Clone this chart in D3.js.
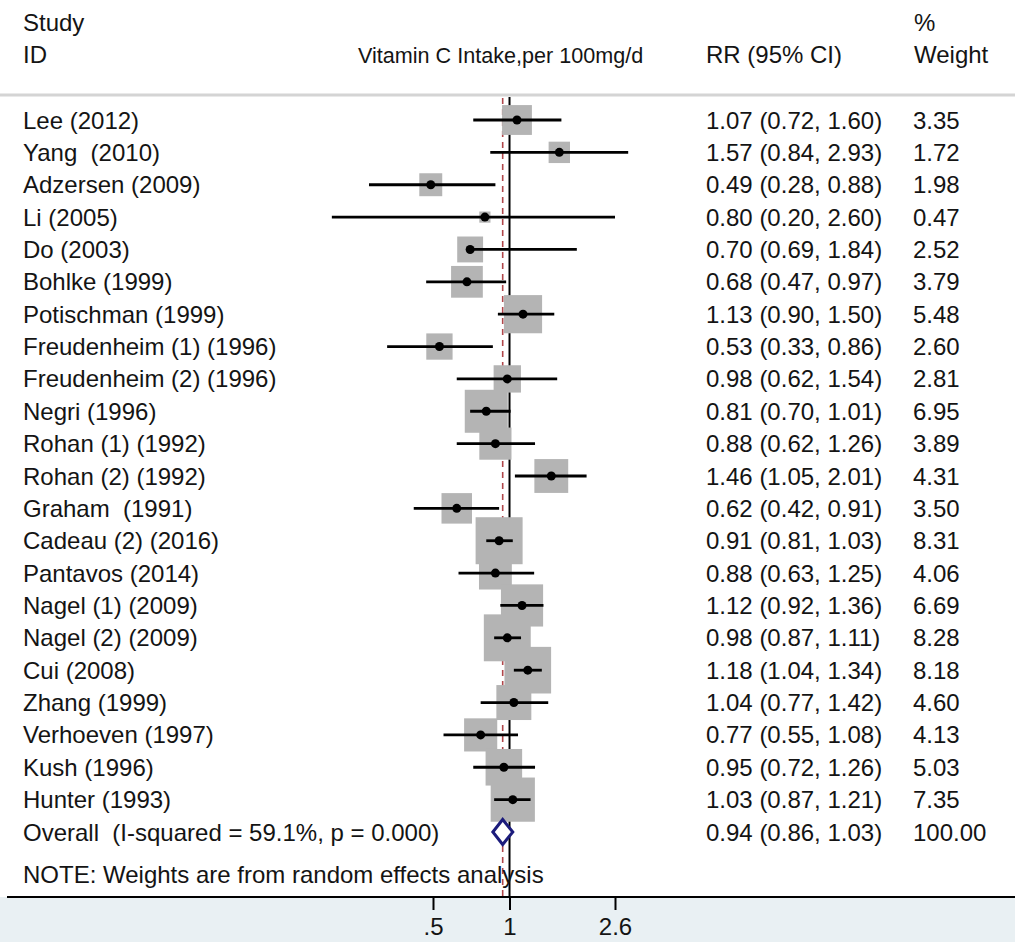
<!DOCTYPE html>
<html>
<head>
<meta charset="utf-8">
<script src="https://cdn.jsdelivr.net/npm/d3@7"></script>
<style>
  html, body { margin: 0; padding: 0; background: #fff; }
  svg { display: block; }
  text { font-family: "Liberation Sans", Arial, sans-serif; fill: #141414; white-space: pre; }
</style>
</head>
<body>
<script>
const studies = ["Lee (2012)", "Yang  (2010)", "Adzersen (2009)", "Li (2005)", "Do (2003)", "Bohlke (1999)",
  "Potischman (1999)", "Freudenheim (1) (1996)", "Freudenheim (2) (1996)", "Negri (1996)", "Rohan (1) (1992)",
  "Rohan (2) (1992)", "Graham  (1991)", "Cadeau (2) (2016)", "Pantavos (2014)", "Nagel (1) (2009)",
  "Nagel (2) (2009)", "Cui (2008)", "Zhang (1999)", "Verhoeven (1997)", "Kush (1996)", "Hunter (1993)"];
const rr = [1.07, 1.57, 0.49, 0.80, 0.70, 0.68, 1.13, 0.53, 0.98, 0.81, 0.88, 1.46, 0.62, 0.91, 0.88, 1.12, 0.98, 1.18, 1.04, 0.77, 0.95, 1.03];
const lower = [0.72, 0.84, 0.28, 0.20, 0.69, 0.47, 0.90, 0.33, 0.62, 0.70, 0.62, 1.05, 0.42, 0.81, 0.63, 0.92, 0.87, 1.04, 0.77, 0.55, 0.72, 0.87];
const upper = [1.60, 2.93, 0.88, 2.60, 1.84, 0.97, 1.50, 0.86, 1.54, 1.01, 1.26, 2.01, 0.91, 1.03, 1.25, 1.36, 1.11, 1.34, 1.42, 1.08, 1.26, 1.21];
const weights = [3.35, 1.72, 1.98, 0.47, 2.52, 3.79, 5.48, 2.60, 2.81, 6.95, 3.89, 4.31, 3.50, 8.31, 4.06, 6.69, 8.28, 8.18, 4.60, 4.13, 5.03, 7.35];
const overallLabel = "Overall  (I-squared = 59.1%, p = 0.000)";
const overall = { rr: 0.94, lower: 0.86, upper: 1.03, weight: 100.00 };
const tickValues = [0.5, 1, 2.6];
const tickLabels = [".5", "1", "2.6"];
const noteText = "NOTE: Weights are from random effects analysis";

const W = 1015, H = 942;
const svg = d3.select("body").append("svg").attr("width", W).attr("height", H);

const x = d3.scaleLog().domain([0.5, 2.6]).range([433, 615]);
const y = d3.scalePoint().domain(d3.range(studies.length + 1)).range([120, 832]);
const box = d3.scaleSqrt().domain([0, 8.31]).range([0, 47]);
const fmt = d3.format(".2f");

const rows = studies.map((s, i) => ({ label: s, rr: rr[i], lo: lower[i], hi: upper[i], w: weights[i], i }));

// headers
const hdr = svg.append("g").style("font-size", "24px");
hdr.append("text").attr("x", 23).attr("y", 31).text("Study");
hdr.append("text").attr("x", 23).attr("y", 63).text("ID");
hdr.append("text").attr("x", 358).attr("y", 63).style("font-size", "21.6px").text("Vitamin C Intake,per 100mg/d");
hdr.append("text").attr("x", 706).attr("y", 63).text("RR (95% CI)");
hdr.append("text").attr("x", 914).attr("y", 31).text("%");
hdr.append("text").attr("x", 914).attr("y", 63).text("Weight");

// top separator
svg.append("line").attr("x1", 0).attr("x2", W).attr("y1", 95).attr("y2", 95)
  .attr("stroke", "#d4d4d4").attr("stroke-width", 3);

// bottom axis panel
const axisY = 897;
svg.append("rect").attr("x", 0).attr("y", axisY).attr("width", W).attr("height", H - axisY).attr("fill", "#e9f0f3");

// null line and overall dashed line
svg.append("line").attr("x1", x(1)).attr("x2", x(1)).attr("y1", 97).attr("y2", axisY)
  .attr("stroke", "#000").attr("stroke-width", 2);
svg.append("line").attr("x1", x(overall.rr)).attr("x2", x(overall.rr)).attr("y1", 98).attr("y2", axisY)
  .attr("stroke", "#b0464a").attr("stroke-width", 1.6).attr("stroke-dasharray", "6,5");

// boxes
svg.append("g").selectAll("rect").data(rows).join("rect")
  .attr("x", d => x(d.rr) - box(d.w) / 2)
  .attr("y", d => y(d.i) - box(d.w) / 2)
  .attr("width", d => box(d.w))
  .attr("height", d => box(d.w))
  .attr("fill", "#b4b4b4");

// CI lines
svg.append("g").selectAll("line").data(rows).join("line")
  .attr("x1", d => x(d.lo)).attr("x2", d => x(d.hi))
  .attr("y1", d => y(d.i)).attr("y2", d => y(d.i))
  .attr("stroke", "#000").attr("stroke-width", 2.8);

// points
svg.append("g").selectAll("circle").data(rows).join("circle")
  .attr("cx", d => x(d.rr)).attr("cy", d => y(d.i)).attr("r", 4.5).attr("fill", "#000");

// overall diamond
const oy = y(studies.length);
svg.append("path")
  .attr("d", d3.line()([[x(overall.lower), oy], [x(overall.rr), oy - 12.5], [x(overall.upper), oy], [x(overall.rr), oy + 12.5]]) + "Z")
  .attr("fill", "#fff").attr("stroke", "#1c1c7c").attr("stroke-width", 3).attr("stroke-linejoin", "miter");

// row texts
const txt = svg.append("g").style("font-size", "24px");
txt.selectAll("text.lab").data(rows).join("text").attr("class", "lab")
  .attr("x", 23).attr("y", d => y(d.i) + 8.5).text(d => d.label);
txt.selectAll("text.ci").data(rows).join("text").attr("class", "ci")
  .attr("x", 706).attr("y", d => y(d.i) + 8.5).text(d => `${fmt(d.rr)} (${fmt(d.lo)}, ${fmt(d.hi)})`);
txt.selectAll("text.wt").data(rows).join("text").attr("class", "wt")
  .attr("x", 913).attr("y", d => y(d.i) + 8.5).text(d => fmt(d.w));
txt.append("text").attr("x", 23).attr("y", oy + 8.5).text(overallLabel);
txt.append("text").attr("x", 706).attr("y", oy + 8.5)
  .text(`${fmt(overall.rr)} (${fmt(overall.lower)}, ${fmt(overall.upper)})`);
txt.append("text").attr("x", 913).attr("y", oy + 8.5).text(fmt(overall.weight));
txt.append("text").attr("x", 23).attr("y", 883).text(noteText);

// x axis
const axis = d3.axisBottom(x).tickValues(tickValues).tickFormat((d, i) => tickLabels[i]).tickSize(13).tickPadding(8);
const ag = svg.append("g").attr("transform", `translate(0,${axisY})`).call(axis);
ag.select(".domain").remove();
ag.selectAll(".tick line").attr("stroke", "#000").attr("stroke-width", 2);
ag.selectAll(".tick text").style("font-size", "24px").style("font-family", "'Liberation Sans', Arial, sans-serif")
  .attr("fill", "#141414").attr("dy", "0.71em");
svg.append("line").attr("x1", 7).attr("x2", W).attr("y1", axisY).attr("y2", axisY)
  .attr("stroke", "#000").attr("stroke-width", 2);
</script>
</body>
</html>
